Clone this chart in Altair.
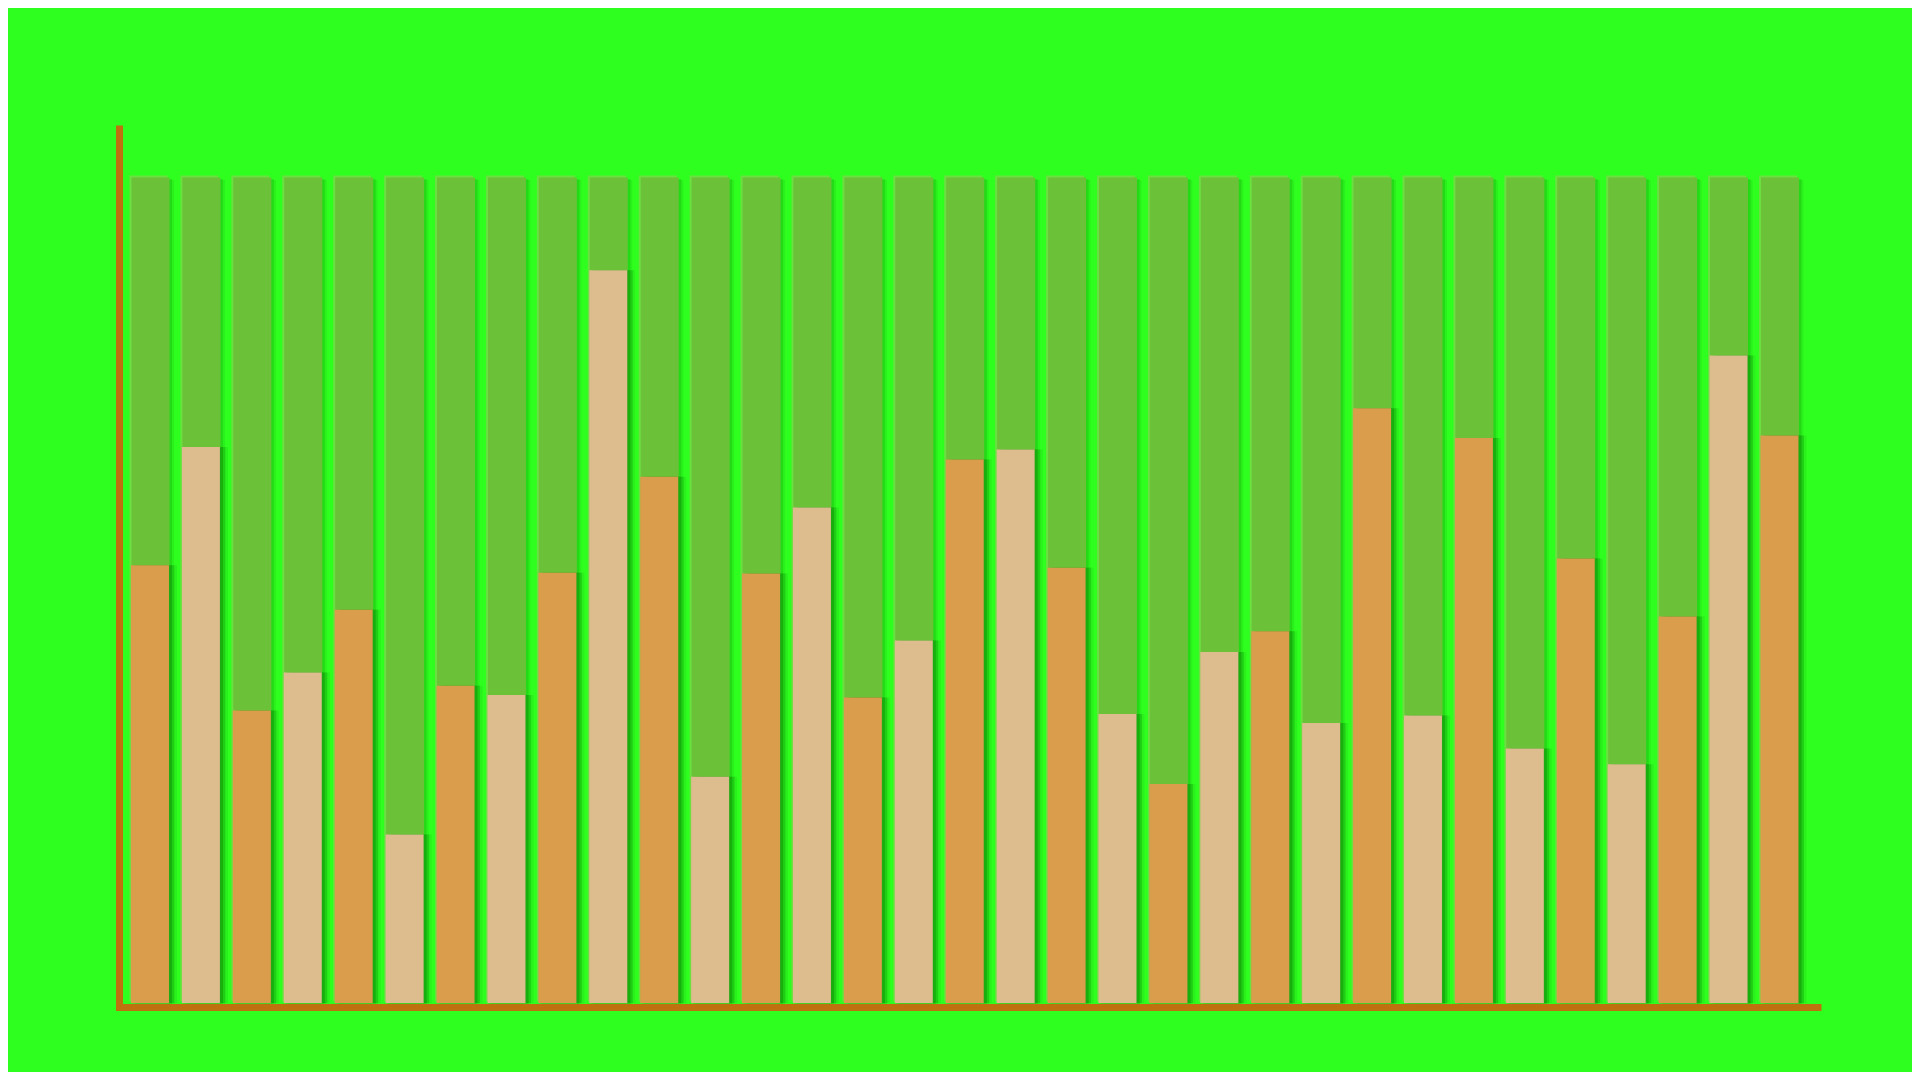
import altair as alt
import pandas as pd

# ---- data ----
categories = list(range(1, 34))
values = [53.0, 67.3, 35.4, 40.0, 47.6, 20.4, 38.4, 37.3, 52.1, 88.7,
          63.7, 27.4, 52.0, 60.0, 37.0, 43.9, 65.8, 67.0, 52.7, 35.0,
          26.5, 42.5, 45.0, 33.9, 72.0, 34.8, 68.4, 30.8, 53.8, 28.9,
          46.8, 78.4, 68.7]
series = ["A", "B"] * 16 + ["A"]
track_max = 100

# ---- styling ----
BG = "#2eff1e"
TRACK = "#6bc239"
TRACK_EDGE = "#7ad84a"
SHADOW = "#129a0c"
ORANGE = "#d99d4b"
LIGHT = "#ddbc8e"
AXIS = "#c0710f"

df = pd.DataFrame({"cat": categories, "value": values, "series": series,
                   "track": [track_max] * len(categories)})

xscale = alt.Scale(paddingInner=0.2537, paddingOuter=0.305, align=0.386)
yscale = alt.Scale(domain=[0, 105.87], nice=False, zero=True)

x_axis = alt.Axis(labels=False, ticks=False, title=None, grid=False,
                  domainColor=AXIS, domainWidth=7, domainCap="square",
                  offset=4, zindex=1)
y_axis = alt.Axis(labels=False, ticks=False, title=None, grid=False,
                  domainColor=AXIS, domainWidth=7, domainCap="square",
                  zindex=1)

base = alt.Chart(df)


def layer(field, xo=0, yo=0, **mark):
    return base.mark_bar(xOffset=xo, yOffset=yo, **mark).encode(
        x=alt.X("cat:N", sort=None, scale=xscale),
        y=alt.Y(f"{field}:Q", scale=yscale),
    )


track_shadow = base.mark_bar(color=SHADOW, opacity=0.25, xOffset=3, yOffset=2).encode(
    x=alt.X("cat:N", sort=None, scale=xscale, axis=x_axis),
    y=alt.Y("track:Q", scale=yscale, axis=y_axis),
)
track_shadow2 = layer("track", 5, 3, color=SHADOW, opacity=0.15)
track_edge = layer("track", -1.5, -1.5, color=TRACK_EDGE, opacity=0.8)
track = layer("track", 0.5, 0.5, color=TRACK)

s3 = layer("value", 8, 0, color=SHADOW, opacity=0.15)
s2 = layer("value", 5.5, 0, color=SHADOW, opacity=0.3)
s1 = layer("value", 3, 0, color=SHADOW, opacity=0.45)

bars = base.mark_bar().encode(
    x=alt.X("cat:N", sort=None, scale=xscale),
    y=alt.Y("value:Q", scale=yscale),
    color=alt.Color("series:N", scale=alt.Scale(domain=["A", "B"], range=[ORANGE, LIGHT]),
                    legend=None),
)

chart = alt.layer(track_shadow, track_shadow2, track_edge, track, s3, s2, s1, bars).properties(
    width=1698.5, height=874.5,
    autosize=alt.AutoSizeParams(type="none"),
    padding={"left": 111, "top": 120.5, "right": 94.5, "bottom": 69},
    background=BG,
).configure_view(strokeWidth=0)

chart.save("out.html", embed_options={"renderer": "svg", "actions": False})
